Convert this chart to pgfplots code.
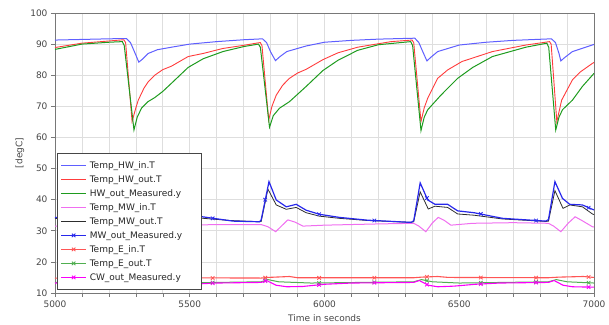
\documentclass[border=0pt]{standalone}
\usepackage{fontspec}
\setmainfont{DejaVu Sans}
\usepackage{pgfplots}
\pgfplotsset{compat=1.18}
\definecolor{cHWin}{RGB}{95,95,255}
\definecolor{cHWout}{RGB}{255,60,60}
\definecolor{cHWmeas}{RGB}{30,155,30}
\definecolor{cMWin}{RGB}{240,110,240}
\definecolor{cMWout}{RGB}{45,45,45}
\definecolor{cMWmeas}{RGB}{40,40,235}
\definecolor{cEin}{RGB}{255,85,85}
\definecolor{cEout}{RGB}{80,175,80}
\definecolor{cCW}{RGB}{250,0,250}
\definecolor{cGrid}{RGB}{222,222,222}
\definecolor{cAxis}{RGB}{120,120,120}
\definecolor{cText}{RGB}{70,70,70}
\pgfplotsset{
  sHWin/.style={color=cHWin, line width=1.0pt},
  sHWout/.style={color=cHWout, line width=0.9pt},
  sHWmeas/.style={color=cHWmeas, line width=1.0pt},
  sMWin/.style={color=cMWin, line width=1.0pt},
  sMWout/.style={color=cMWout, line width=0.8pt},
  sMWmeas/.style={color=cMWmeas, line width=1.2pt},
  sEin/.style={color=cEin, line width=1.1pt},
  sEout/.style={color=cEout, line width=1.0pt},
  sCW/.style={color=cCW, line width=1.1pt},
  mk/.style={only marks, mark=x, mark size=2.5pt, mark options={line width=0.8pt}},
}
\begin{document}
\begin{tikzpicture}
\begin{axis}[name=ax,
  scale only axis, width=539pt, height=280pt,
  xmin=5000, xmax=7000, ymin=10, ymax=100,
  xtick={5000,5500,6000,6500,7000}, minor x tick num=4,
  ytick={10,20,...,100},
  grid=both,
  major grid style={draw=cGrid, line width=0.7pt},
  minor grid style={draw=cGrid, line width=0.7pt},
  axis line style={draw=cAxis, line width=0.8pt},
  tick style={draw=cAxis, line width=0.6pt},
  tick align=outside, xtick pos=bottom, ytick pos=left,
  major tick length=4pt, minor tick length=4pt,
  /pgf/number format/1000 sep={},
  /pgf/number format/assume math mode=true,
  tick label style={font=\fontsize{9}{11}\selectfont, text=cText},
  xlabel={Time in seconds}, ylabel={[degC]},
  label style={font=\fontsize{9}{11}\selectfont, text=cText},
  xlabel style={at={(axis description cs:0.5,-0.089)}, anchor=center},
  ylabel style={at={(axis description cs:-0.065,0.5)}, anchor=center},
  legend image code/.code={\draw[mark repeat=2,mark phase=2,#1] plot coordinates {(0pt,0pt) (12.5pt,0pt) (25pt,0pt)};},
  legend cell align=left,
  legend style={at={(axis description cs:0.004,0.5)}, anchor=north west,
    draw=cText, line width=0.8pt, fill=white,
    font=\fontsize{9}{11}\selectfont, text=black!85,
    inner xsep=3pt, inner ysep=5pt, row sep=0pt,
    nodes={inner xsep=3pt, inner ysep=1.5pt, text height=8.5pt, text depth=2.5pt, text width=106pt, align=left}},
]
% Temp_HW_in.T
\addplot[sHWin, forget plot] coordinates {
(5000,91.3) (5100,91.5) (5200,91.7) (5265,91.8) (5280,90.5) (5295,87.5) (5311,84.2) (5325,85.2) (5346,87.0) (5380,88.2) (5432,89.0) (5500,90.0) (5600,90.8) (5700,91.4) (5770,91.7) (5785,90.5) (5800,87.5) (5818,84.7) (5835,86.0) (5860,87.6) (5932,89.4) (6000,90.6) (6100,91.2) (6200,91.6) (6335,91.9) (6350,90.5) (6365,87.5) (6380,84.6) (6395,85.8) (6420,87.6) (6500,89.7) (6600,90.6) (6700,91.2) (6842,91.7) (6857,90.5) (6870,87.0) (6877,84.6) (6890,85.6) (6920,87.6) (7000,89.9)};
% Temp_HW_out.T
\addplot[sHWout, forget plot] coordinates {
(5000,88.9) (5100,90.3) (5200,91.0) (5255,91.4) (5262,90.5) (5286,65.1) (5300,69.5) (5309,72.0) (5330,75.8) (5346,77.9) (5370,80.0) (5400,81.8) (5432,82.9) (5494,86.0) (5550,87.0) (5623,88.6) (5700,89.6) (5747,90.3) (5762,90.5) (5768,89.5) (5793,65.6) (5805,70.0) (5821,73.6) (5845,76.8) (5870,79.0) (5900,80.7) (5932,81.9) (5994,85.0) (6050,87.2) (6123,89.0) (6247,90.8) (6325,91.3) (6331,90.5) (6358,65.1) (6370,69.5) (6383,72.6) (6420,79.0) (6457,81.7) (6510,84.4) (6623,87.6) (6747,89.7) (6835,90.8) (6841,90.0) (6862,65.1) (6880,72.0) (6920,78.5) (6950,81.1) (6994,83.8) (7000,84.1)};
% HW_out_Measured.y
\addplot[sHWmeas, forget plot] coordinates {
(5000,88.3) (5100,90.0) (5200,90.6) (5250,90.8) (5257,89.5) (5293,62.4) (5305,66.5) (5321,69.4) (5345,71.5) (5370,72.8) (5400,74.8) (5432,77.4) (5494,82.5) (5550,85.3) (5623,87.6) (5700,89.2) (5755,90.0) (5762,89.0) (5796,63.3) (5810,67.0) (5833,69.4) (5870,71.5) (5932,76.4) (5994,81.5) (6050,84.8) (6123,88.0) (6200,89.8) (6320,90.8) (6327,89.5) (6358,62.2) (6370,66.5) (6383,68.9) (6432,73.6) (6494,79.0) (6550,82.5) (6623,86.0) (6747,89.0) (6825,90.3) (6832,89.0) (6858,62.4) (6870,66.5) (6883,68.9) (6920,72.0) (6957,76.4) (6994,80.0) (7000,80.6)};
% Temp_MW_in.T
\addplot[sMWin, forget plot] coordinates {
(5000,31.5) (5100,31.7) (5262,31.8) (5290,31.0) (5310,29.8) (5355,33.5) (5400,31.7) (5500,31.8) (5600,32.0) (5765,32.0) (5790,31.3) (5819,29.7) (5840,31.5) (5864,33.5) (5890,32.8) (5920,31.5) (6000,31.8) (6100,32.0) (6200,32.2) (6331,32.4) (6350,31.5) (6376,29.7) (6400,32.5) (6422,34.3) (6445,33.3) (6469,31.8) (6550,32.4) (6700,32.6) (6831,32.4) (6850,31.5) (6877,29.7) (6905,32.5) (6930,34.5) (6955,33.3) (6994,31.3) (7000,31.2)};
% Temp_MW_out.T
\addplot[sMWout, forget plot] coordinates {
(5000,34.0) (5100,33.4) (5262,33.0) (5290,43.0) (5318,38.0) (5348,37.0) (5380,37.5) (5410,35.8) (5460,34.7) (5550,34.0) (5650,33.3) (5760,32.9) (5765,33.0) (5790,43.4) (5821,38.3) (5858,36.9) (5895,37.5) (5932,35.8) (5981,34.7) (6055,34.0) (6160,33.3) (6321,32.7) (6331,32.9) (6355,42.5) (6385,37.0) (6410,37.9) (6457,37.5) (6494,35.4) (6555,35.0) (6660,33.8) (6821,33.0) (6831,33.1) (6855,42.9) (6885,37.2) (6910,38.3) (6957,37.7) (6994,35.4) (7000,35.2)};
% MW_out_Measured.y
\addplot[sMWmeas, forget plot] coordinates {
(5000,34.3) (5100,33.5) (5255,33.0) (5262,33.5) (5290,45.5) (5318,40.0) (5355,37.7) (5390,38.5) (5430,36.6) (5480,35.3) (5555,34.4) (5660,33.1) (5759,32.9) (5765,33.5) (5794,45.8) (5821,39.9) (5858,37.7) (5895,38.5) (5932,36.6) (5981,35.3) (6055,34.3) (6160,33.4) (6321,32.7) (6331,33.2) (6355,45.4) (6383,39.9) (6410,38.5) (6457,38.5) (6494,36.4) (6555,35.8) (6660,34.0) (6821,33.1) (6831,33.6) (6855,45.8) (6883,40.4) (6910,38.5) (6957,38.3) (6994,36.9) (7000,36.7)};
\addplot[sMWmeas, mk, forget plot] coordinates {
(5185,33.25) (5385,38.4) (5585,34.0) (5780,40.0) (5980,35.3) (6185,33.3) (6380,40.5) (6580,35.4) (6785,33.3) (6980,37.4)};
% Temp_E_in.T
\addplot[sEin, forget plot] coordinates {
(5000,14.8) (5262,14.8) (5300,15.0) (5380,15.2) (5420,14.9) (5765,14.8) (5790,15.0) (5870,15.3) (5900,14.9) (6331,14.9) (6360,15.1) (6420,15.3) (6460,15.0) (6831,14.9) (6870,15.1) (6960,15.3) (7000,15.0)};
\addplot[sEin, mk, forget plot] coordinates {
(5185,14.8) (5385,15.2) (5585,14.8) (5780,14.9) (5980,14.85) (6185,14.9) (6380,15.2) (6580,14.95) (6785,14.9) (6980,15.15)};
% Temp_E_out.T
\addplot[sEout, forget plot] coordinates {
(5000,13.4) (5262,13.6) (5290,14.3) (5330,13.6) (5450,13.2) (5765,13.6) (5790,14.3) (5830,13.6) (5950,13.2) (6331,13.6) (6360,14.3) (6400,13.6) (6500,13.2) (6831,13.6) (6860,14.3) (6900,13.6) (7000,13.2)};
\addplot[sEout, mk, forget plot] coordinates {
(5185,13.55) (5385,13.45) (5585,13.37) (5780,14.0) (5980,13.23) (6185,13.45) (6380,13.95) (6580,13.3) (6785,13.55) (6980,13.28)};
% CW_out_Measured.y
\addplot[sCW, forget plot] coordinates {
(5000,13.2) (5262,13.4) (5285,14.0) (5320,12.5) (5360,12.0) (5420,12.1) (5500,12.8) (5600,13.2) (5765,13.4) (5785,14.0) (5820,12.5) (5860,12.0) (5920,12.1) (6000,12.8) (6100,13.2) (6331,13.4) (6352,14.0) (6385,12.5) (6420,12.0) (6480,12.2) (6560,12.8) (6650,13.2) (6831,13.4) (6852,14.0) (6885,12.5) (6920,12.0) (6980,11.9) (7000,11.9)};
\addplot[sCW, mk, forget plot] coordinates {
(5185,13.33) (5385,12.04) (5585,13.14) (5780,13.85) (5980,12.62) (6185,13.3) (6380,12.7) (6580,12.87) (6785,13.35) (6980,11.9)};
% legend
\addlegendimage{sHWin}\addlegendentry{Temp\_HW\_in.T}
\addlegendimage{sHWout}\addlegendentry{Temp\_HW\_out.T}
\addlegendimage{sHWmeas}\addlegendentry{HW\_out\_Measured.y}
\addlegendimage{sMWin}\addlegendentry{Temp\_MW\_in.T}
\addlegendimage{sMWout}\addlegendentry{Temp\_MW\_out.T}
\addlegendimage{sMWmeas, mark=x, mark size=2.5pt, mark options={line width=0.8pt}}\addlegendentry{MW\_out\_Measured.y}
\addlegendimage{sEin, mark=x, mark size=2.5pt, mark options={line width=0.8pt}}\addlegendentry{Temp\_E\_in.T}
\addlegendimage{sEout, mark=x, mark size=2.5pt, mark options={line width=0.8pt}}\addlegendentry{Temp\_E\_out.T}
\addlegendimage{sCW, mark=x, mark size=2.5pt, mark options={line width=0.8pt}}\addlegendentry{CW\_out\_Measured.y}
\end{axis}
\path (ax.south west) ++(-55pt,-32pt) coordinate (bbA);
\path (ax.north east) ++(15pt,13pt) coordinate (bbB);
\pgfresetboundingbox
\path[use as bounding box] (bbA) rectangle (bbB);
\end{tikzpicture}
\end{document}
